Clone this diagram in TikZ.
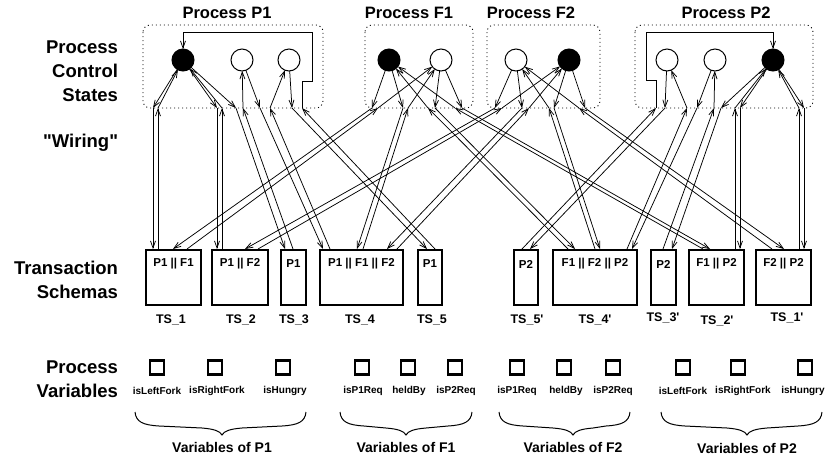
\documentclass[tikz,border=0pt]{standalone}
\usepackage{fontspec}
\newfontfamily\arialb{Liberation Sans}
\usetikzlibrary{arrows.meta}
\newcommand\wire[6]{%
  \coordinate (bd#2) at (#2,108);
  \coordinate (td#3) at (#3,249);
  \coordinate (tu#4) at (#4,249);
  \coordinate (bu#5) at (#5,108);
  \draw[seg] (#1) -- (bd#2);
  \draw[seg] (bd#2) -- (td#3);
  \draw[seg] (tu#4) -- (bu#5);
  \draw[seg] (bu#5) -- (#6);
}
\newcommand\wirenl[5]{%
  \coordinate (bd#2) at (#2,108);
  \coordinate (td#3) at (#3,249);
  \coordinate (tu#4) at (#4,249);
  \coordinate (bu#5) at (#5,108);
  \draw[seg] (#1) -- (bd#2);
  \draw[seg] (bd#2) -- (td#3);
  \draw[seg] (tu#4) -- (bu#5);
}
\newcommand\varbrace[3]{%
  \draw[bracestyle] (#1,412) .. controls (#1+1,422) and (#1+8,425) .. (#1+24,426)
    -- (#2-20,428) .. controls (#2-8,429) and (#2-2,431) .. (#2,435)
    .. controls (#2+2,431) and (#2+8,429) .. (#2+20,428)
    -- (#3-24,426) .. controls (#3-8,425) and (#3-1,422) .. (#3,412);
}
\begin{document}
\begin{tikzpicture}[x=1pt,y=-1pt,
  every node/.style={inner sep=0pt, outer sep=0pt},
  lefttxt/.style={font=\arialb\bfseries\fontsize{18.5}{24}\selectfont, align=right, anchor=east},
  titletxt/.style={font=\arialb\bfseries\fontsize{16.5}{20}\selectfont},
  boxtxt/.style={font=\arialb\bfseries\fontsize{11.5}{14}\selectfont},
  tstxt/.style={font=\arialb\bfseries\fontsize{12.5}{15}\selectfont},
  vartxt/.style={font=\arialb\bfseries\fontsize{10}{12}\selectfont},
  grptxt/.style={font=\arialb\bfseries\fontsize{14}{17}\selectfont},
  procbox/.style={line width=0.9pt, dash pattern=on 1pt off 3pt, rounded corners=7pt},
  fstate/.style={circle, draw, fill=black, line width=1pt, minimum size=22pt},
  estate/.style={circle, draw, fill=white, line width=1pt, minimum size=22pt},
  seg/.style={line width=0.75pt, -{Straight Barb[length=7pt,width=5pt]}},
  tsbox/.style={draw, line width=2.4pt, minimum height=55pt},
  varbox/.style={draw, line width=2.2pt, minimum width=14pt, minimum height=14pt},
  bracestyle/.style={line width=1pt}
]
\useasboundingbox (0,0) rectangle (825,459);

% left labels
\node[lefttxt] (lpcs) at (118,71) {Process\\Control\\States};
\node[lefttxt] (lwir) at (118,143) {"Wiring"};
\node[lefttxt] (lts) at (118,279.5) {Transaction\\Schemas};
\node[lefttxt] (lpv) at (118,379.5) {Process\\Variables};

% titles
\node[titletxt] (tp1) at (227,13) {Process P1};
\node[titletxt] (tf1) at (409,13) {Process F1};
\node[titletxt] (tf2) at (531,13) {Process F2};
\node[titletxt] (tp2) at (726,13) {Process P2};

% process boxes
\draw[procbox] (143,25) rectangle (323,108);
\draw[procbox] (365,25) rectangle (473,108);
\draw[procbox] (487,25) rectangle (600,108);
\draw[procbox] (635,25) rectangle (813,108);

% control states
\node[fstate] (p1f) at (183,60) {};
\node[estate] (p1a) at (242,60) {};
\node[estate] (p1b) at (289,60) {};
\node[fstate] (f1f) at (389,60) {};
\node[estate] (f1e) at (441,60) {};
\node[estate] (f2e) at (516,60) {};
\node[fstate] (f2f) at (569,60) {};
\node[estate] (p2a) at (667,60) {};
\node[estate] (p2b) at (715,60) {};
\node[fstate] (p2f) at (773,60) {};

% transaction schemas
\node[tsbox, minimum width=55pt] (ts1) at (173.5,277.5) {};
\node[tsbox, minimum width=56pt] (ts2) at (240,277.5) {};
\node[tsbox, minimum width=25pt] (ts3) at (293.5,277.5) {};
\node[tsbox, minimum width=83pt] (ts4) at (361.5,277.5) {};
\node[tsbox, minimum width=24pt] (ts5) at (430,277.5) {};
\node[tsbox, minimum width=24pt] (ts5p) at (526,277.5) {};
\node[tsbox, minimum width=84pt] (ts4p) at (595,277.5) {};
\node[tsbox, minimum width=25pt] (ts3p) at (663.5,277.5) {};
\node[tsbox, minimum width=55pt] (ts2p) at (716.5,277.5) {};
\node[tsbox, minimum width=55pt] (ts1p) at (783.5,277.5) {};

\node[boxtxt] (bl1) at ([yshift=-14pt]ts1.north) {P1 || F1};
\node[boxtxt] (bl2) at ([yshift=-14pt]ts2.north) {P1 || F2};
\node[boxtxt] (bl3) at ([yshift=-14pt]ts3.north) {P1};
\node[boxtxt] (bl4) at ([yshift=-14pt]ts4.north) {P1 || F1 || F2};
\node[boxtxt] (bl5) at ([yshift=-14pt]ts5.north) {P1};
\node[boxtxt] (bl5p) at ([yshift=-14pt]ts5p.north) {P2};
\node[boxtxt] (bl4p) at ([yshift=-14pt]ts4p.north) {F1 || F2 || P2};
\node[boxtxt] (bl3p) at ([yshift=-14pt]ts3p.north) {P2};
\node[boxtxt] (bl2p) at ([yshift=-14pt]ts2p.north) {F1 || P2};
\node[boxtxt] (bl1p) at ([yshift=-14pt]ts1p.north) {F2 || P2};

\node[tstxt] (n1) at (171,320) {TS\_1};
\node[tstxt] (n2) at (241,320) {TS\_2};
\node[tstxt] (n3) at (294,320) {TS\_3};
\node[tstxt] (n4) at (360,320) {TS\_4};
\node[tstxt] (n5) at (432,320) {TS\_5};
\node[tstxt] (n5p) at (527,320) {TS\_5'};
\node[tstxt] (n4p) at (595,320) {TS\_4'};
\node[tstxt] (n3p) at (663,318) {TS\_3'};
\node[tstxt] (n2p) at (717,321) {TS\_2'};
\node[tstxt] (n1p) at (787,318) {TS\_1'};

% wiring
\wire{p1f}{153}{153}{158}{158}{p1f}
\wire{p1f}{217}{217}{222}{222}{p1f}
\wire{p1f}{236}{285}{293}{243}{p1a}
\wire{p1a}{260}{323}{330}{270}{p1b}
\wirenl{p1b}{292}{427}{435}{302}
\draw[seg] (bu302) -- (302,81) -- (312,81) -- (312,32) -- (183,32) -- (p1f);
\wire{f1f}{372}{173}{187}{378}{f1e}
\wire{f1f}{403}{357}{363}{408}{f1e}
\wire{f1e}{435}{575}{568}{428}{f1f}
\wire{f1e}{462}{710}{703}{455}{f1f}
\wire{f2e}{495}{245}{258}{502}{f2f}
\wire{f2e}{522}{387}{397}{529}{f2f}
\wire{f2f}{554}{600}{595}{549}{f2e}
\wire{f2f}{585}{784}{772}{579}{f2e}
\wire{p2f}{804}{804}{799}{799}{p2f}
\wire{p2f}{740}{740}{735}{735}{p2f}
\wire{p2f}{721}{672}{663}{714}{p2b}
\wire{p2b}{697}{632}{627}{687}{p2a}
\wirenl{p2a}{665}{530}{522}{656}
\draw[seg] (bu656) -- (656,80) -- (646,80) -- (646,32) -- (773,32) -- (p2f);

% process variables
\foreach \nm/\x/\lx/\txt in {v1/157/157/isLeftFork, v2/215/217/isRightFork, v3/283/285/isHungry,
  v4/362/363/isP1Req, v5/408/409/heldBy, v6/455/456/isP2Req,
  v7/517/517/isP1Req, v8/564/566/heldBy, v9/613/613/isP2Req,
  v10/683/683/isLeftFork, v11/738/743/isRightFork, v12/805/803/isHungry}{
  \node[varbox] (\nm) at (\x,367.5) {};
  \node[vartxt] (\nm l) at (\lx,391) {\txt};
}

\varbrace{135}{222}{306}
\varbrace{340}{406}{472}
\varbrace{499}{573}{630}
\varbrace{661}{747}{822}

\node[grptxt] (g1) at (222,447) {Variables of P1};
\node[grptxt] (g2) at (406,447) {Variables of F1};
\node[grptxt] (g3) at (573,447) {Variables of F2};
\node[grptxt] (g4) at (747,448) {Variables of P2};
\end{tikzpicture}
\end{document}
